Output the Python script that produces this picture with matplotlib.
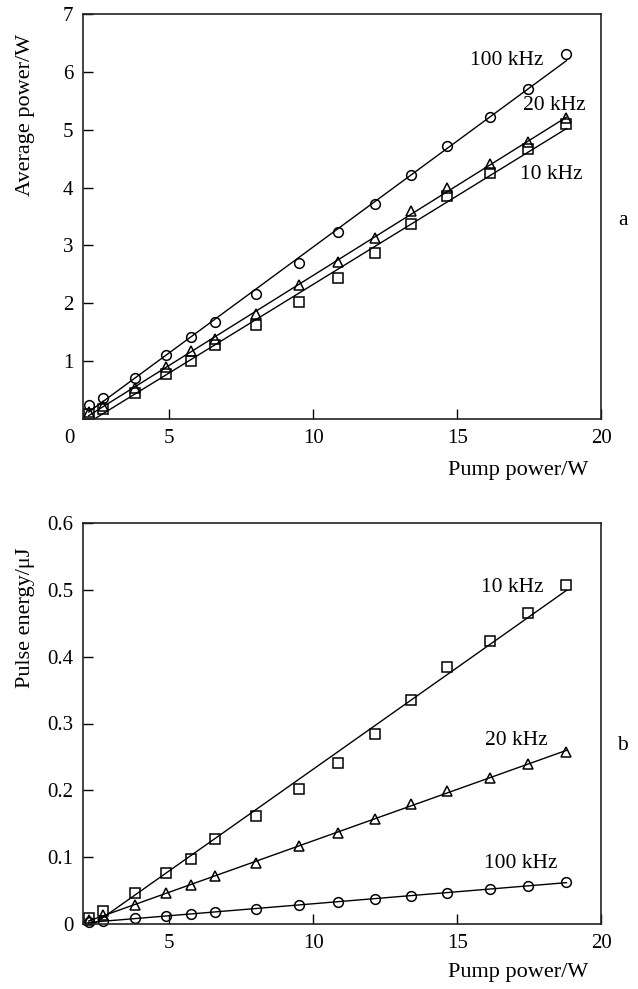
import numpy as np
import matplotlib
matplotlib.use("Agg")
import matplotlib.pyplot as plt

plt.rcParams['font.family'] = ['Liberation Serif', 'DejaVu Serif']
plt.rcParams['mathtext.fontset'] = 'stix'

# Pump power (W)
pump = [2.2, 2.7, 3.8, 4.9, 5.75, 6.6, 8.0, 9.5, 10.85, 12.15, 13.4, 14.65, 16.15, 17.45, 18.8]

# (a) Average power (W)
avg_100k = [0.24, 0.37, 0.71, 1.11, 1.41, 1.68, 2.16, 2.69, 3.23, 3.72, 4.22, 4.71, 5.22, 5.71, 6.30]
avg_20k = [0.12, 0.22, 0.53, 0.90, 1.17, 1.39, 1.81, 2.32, 2.72, 3.12, 3.59, 3.99, 4.41, 4.78, 5.20]
avg_10k = [0.08, 0.18, 0.45, 0.78, 1.00, 1.28, 1.62, 2.03, 2.43, 2.87, 3.37, 3.85, 4.26, 4.66, 5.10]

# (b) Pulse energy (uJ)
pe_10k = [0.0095, 0.019, 0.047, 0.077, 0.098, 0.127, 0.161, 0.202, 0.241, 0.284, 0.335, 0.385, 0.423, 0.465, 0.507]
pe_20k = [0.006, 0.013, 0.029, 0.046, 0.058, 0.072, 0.092, 0.116, 0.136, 0.157, 0.180, 0.199, 0.219, 0.239, 0.258]
pe_100k = [0.0025, 0.0045, 0.0085, 0.012, 0.015, 0.018, 0.023, 0.028, 0.033, 0.038, 0.042, 0.047, 0.052, 0.057, 0.063]

x_ticks = [5, 10, 15, 20]
ya_ticks = [1, 2, 3, 4, 5, 6, 7]
yb_ticks = [0, 0.1, 0.2, 0.3, 0.4, 0.5, 0.6]
yb_labels = ['0', '0.1', '0.2', '0.3', '0.4', '0.5', '0.6']

W, H = 638, 989
fig = plt.figure(figsize=(W / 100, H / 100), dpi=100)

def ax_rect(l, t, r, b):
    return [l / W, 1 - b / H, (r - l) / W, (b - t) / H]

axa = fig.add_axes(ax_rect(83, 14, 601, 419))
axb = fig.add_axes(ax_rect(83, 523, 601, 924))

FS_TICK = 15
FS_LAB = 16
FS_TXT = 15.5

def fitline(ax, x, y):
    x = np.asarray(x); y = np.asarray(y)
    k, b = np.polyfit(x, y, 1)
    xs = np.array([x[0], x[-1]])
    ax.plot(xs, k * xs + b, color='black', lw=1.0)

def series(ax, x, y, marker, ms):
    fitline(ax, x, y)
    ax.plot(x, y, linestyle='none', marker=marker, ms=ms, mfc='none',
            mec='black', mew=1.1, clip_on=False)

for ax in (axa, axb):
    ax.set_xlim(2, 20)
    ax.set_xticks(x_ticks)
    ax.tick_params(direction='in', length=7, width=1, labelsize=FS_TICK,
                   top=False, right=False, pad=7)
    for s in ax.spines.values():
        s.set_linewidth(1.2)
        s.set_color('#222222')

# (a)
series(axa, pump, avg_100k, 'o', 7)
series(axa, pump, avg_20k, '^', 7.5)
series(axa, pump, avg_10k, 's', 6.5)
axa.set_ylim(0, 7)
axa.set_yticks(ya_ticks)
axa.set_ylabel('Average power/W', fontsize=FS_LAB)
axa.yaxis.set_label_coords(-0.093, 0.75)
axa.set_xlabel('Pump power/W', fontsize=FS_LAB)
axa.xaxis.set_label_coords(0.84, -0.104)
axa.text(-0.027, -0.047, '0', transform=axa.transAxes, fontsize=FS_TICK,
         ha='center', va='center')
axa.text(16.72, 6.2, '100 kHz', fontsize=FS_TXT, ha='center', va='center')
axa.text(18.39, 5.41, '20 kHz', fontsize=FS_TXT, ha='center', va='center')
axa.text(18.28, 4.23, '10 kHz', fontsize=FS_TXT, ha='center', va='center')
axa.text(1.042, 0.491, 'a', transform=axa.transAxes, fontsize=FS_TXT,
         ha='center', va='center')

# (b)
series(axb, pump, pe_10k, 's', 6.5)
series(axb, pump, pe_20k, '^', 7.5)
series(axb, pump, pe_100k, 'o', 7)
axb.set_ylim(0, 0.6)
axb.set_yticks(yb_ticks)
axb.set_yticklabels(yb_labels)
axb.set_ylabel('Pulse energy/μJ', fontsize=FS_LAB)
axb.yaxis.set_label_coords(-0.093, 0.763)
axb.set_xlabel('Pump power/W', fontsize=FS_LAB)
axb.xaxis.set_label_coords(0.84, -0.097)
axb.text(16.91, 0.504, '10 kHz', fontsize=FS_TXT, ha='center', va='center')
axb.text(17.07, 0.275, '20 kHz', fontsize=FS_TXT, ha='center', va='center')
axb.text(17.2, 0.0898, '100 kHz', fontsize=FS_TXT, ha='center', va='center')
axb.text(1.042, 0.446, 'b', transform=axb.transAxes, fontsize=FS_TXT,
         ha='center', va='center')

fig.savefig('out.png', dpi=100)
